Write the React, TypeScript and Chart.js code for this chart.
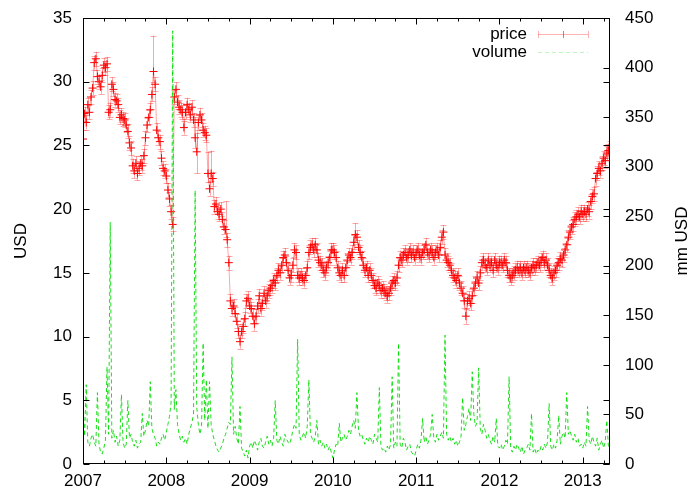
import React, { useEffect, useRef } from "react";
import { Chart, registerables } from "chart.js";

Chart.register(...registerables);

// weekly observations starting at the first week of 2007
const startYear = 2007;
const weeksPerYear = 52;

const price2007 = [
  25.5, 27.5, 26.8, 28.2, 27.6, 28.8, 29.5, 31.5, 31.8, 30.4,
  30, 29.6, 30.5, 31.3, 31.1, 31.4, 27.6, 27.8, 29.8, 29.4,
  28.6, 28.5, 28.2, 27.2, 27.4, 27.1, 27, 26.6, 26.1, 25.2,
  24.8, 23.4, 23, 23.6, 22.8, 23.2, 23.6, 23.4, 24.2, 25.6,
  26.6, 27.2, 27.8, 29, 30.8, 29.8, 26.2, 25.6, 25.3, 24,
  23.2, 23,
];
const price2008 = [
  22.6, 21.5, 20.8, 19.8, 18.8, 28.8, 29.4, 28.4, 28, 27.8,
  27.6, 26.4, 27.6, 28.2, 27.8, 27.4, 28, 27, 25.6, 24.5,
  26.8, 27.4, 27, 26.2, 26, 25.8, 22.8, 21.6, 22.8, 22.4,
  20.2, 20.4, 19.8, 19.6, 20, 19.2, 18.6, 18.4, 17.6, 15.8,
  12.8, 12.2, 12.4, 11.8, 11.2, 10.4, 9.6, 10.4, 10.8, 11.4,
  12.8, 13,
];
const price2009 = [
  12.4, 12.2, 11.6, 11, 11.6, 12.4, 13.2, 12.2, 12.6, 13.4,
  12.8, 13.2, 13.6, 13.8, 14, 14.4, 14.2, 14.8, 15.2, 15,
  15.6, 16.2, 16.4, 15.8, 15.2, 14.6, 14.8, 15.6, 16.8, 16.6,
  14.8, 14.6, 14.8, 14.6, 14.4, 14.8, 15.4, 16.6, 17, 17.2,
  16.8, 17.2, 16.8, 16, 15.8, 15.6, 15.2, 15, 15.4, 15.8,
  16.2, 16.8,
];
const price2010 = [
  16.8, 16.6, 16.2, 15.4, 15, 14.8, 15.2, 14.8, 15.4, 16,
  16.4, 16.2, 16.6, 17.4, 18, 17.8, 17, 16.6, 16.2, 15.6,
  15.2, 15.4, 14.8, 15.2, 14.8, 14.4, 14, 13.8, 14.2, 14,
  13.6, 13.8, 13.6, 13.4, 13.2, 13.4, 13.8, 14.2, 14.4, 14.2,
  14.6, 15.6, 16.2, 16, 16.4, 16.6, 16.2, 16.4, 16.8, 16.4,
  16.6, 16.2,
];
const price2011 = [
  16.6, 16.8, 16.4, 16.2, 16.6, 16.8, 17.2, 16.6, 16.4, 16.8,
  16.6, 16.2, 16.6, 16.8, 16.4, 17, 17.8, 18.2, 16.4, 16,
  15.8, 15.6, 15.2, 14.8, 14.6, 14.4, 14.8, 14.2, 13.8, 13.4,
  12.8, 11.6, 12.8, 13, 12.6, 13.2, 13.8, 14.2, 14.6, 14.2,
  15, 15.8, 16, 15.6, 15.4, 16, 15.6, 15.8, 15.2, 16,
  15.6, 15.4,
];
const price2012 = [
  15.8, 15.8, 15.6, 16, 15.8, 15.2, 14.8, 14.6, 14.8, 15,
  15.2, 15.4, 15.2, 15.4, 15, 15.4, 15.2, 15.4, 15.2, 15,
  15.4, 15.6, 15.4, 15.6, 15.8, 15.6, 16, 16.2, 15.8, 16,
  15.6, 15.2, 14.8, 14.6, 15, 15.2, 15.6, 15.8, 16.1, 16,
  16.4, 16.8, 17.2, 17.8, 18.2, 18.6, 18.8, 19.2, 19.4, 19.6,
  19.4, 19.8,
];
const price2013 = [
  19.6, 19.8, 19.6, 20, 19.8, 20.6, 21, 21.2, 22.4, 22.8,
  23.2, 23, 23.6, 24, 23.8, 24.4, 24.6, 24.8,
];

const volume2007 = [
  62, 28, 80, 22, 18, 26, 30, 22, 18, 72,
  20, 12, 10, 16, 24, 98, 30, 244, 26, 34,
  22, 28, 18, 24, 70, 22, 16, 20, 64, 26,
  30, 22, 18, 24, 16, 20, 22, 51, 28, 34,
  44, 38, 83, 36, 30, 26, 18, 22, 20, 26,
  30, 24,
];
const volume2008 = [
  32, 40, 48, 62, 437, 55, 75, 40, 30, 24,
  28, 22, 26, 20, 30, 36, 42, 50, 276, 58,
  40, 30, 38, 122, 44, 85, 36, 83, 40, 30,
  24, 18, 14, 12, 16, 20, 26, 30, 36, 42,
  40, 108, 30, 38, 26, 20, 58, 16, 12, 8,
  14, 6,
];
const volume2009 = [
  18, 22, 16, 24, 20, 14, 22, 26, 18, 16,
  22, 28, 20, 24, 18, 26, 64, 24, 20, 28,
  22, 18, 30, 26, 22, 20, 26, 34, 40, 36,
  126, 30, 24, 28, 32, 26, 38, 85, 30, 26,
  22, 28, 44, 20, 24, 18, 22, 16, 20, 14,
  18, 12,
];
const volume2010 = [
  6, 14, 20, 18, 41, 22, 26, 30, 24, 28,
  34, 30, 38, 44, 36, 72, 34, 28, 30, 24,
  20, 26, 22, 28, 24, 20, 30, 26, 22, 77,
  18, 14, 16, 12, 18, 14, 20, 88, 16, 22,
  18, 122, 20, 16, 26, 22, 14, 18, 20, 12,
  10, 8,
];
const volume2011 = [
  14, 20, 16, 24, 46, 22, 28, 20, 24, 30,
  50, 26, 22, 30, 24, 28, 32, 26, 130, 30,
  24, 28, 22, 26, 20, 24, 18, 22, 28, 67,
  34, 40, 48, 56, 44, 93, 50, 38, 42, 97,
  36, 30, 40, 34, 26, 30, 24, 20, 28, 22,
  46, 18,
];
const volume2012 = [
  16, 20, 14, 18, 24, 20, 88, 16, 12, 18,
  14, 20, 16, 12, 18, 10, 14, 16, 20, 14,
  51, 12, 16, 10, 14, 12, 18, 14, 20, 16,
  22, 61, 18, 14, 20, 16, 24, 49, 20, 28,
  32, 26, 72, 30, 34, 28, 24, 30, 22, 26,
  18, 20,
];
const volume2013 = [
  16, 22, 18, 58, 24, 20, 28, 22, 18, 26,
  14, 20, 24, 16, 22, 44, 18, 14,
];

// typical half-range of the weekly price error bar, and the visibly long bars [week, low, high]
const priceErrHalf = 0.55;
const priceLongBars = [
  [0, 25.0, 26.2],
  [44, 30.0, 33.6],
  [70, 24.8, 27.2],
  [71, 22.8, 26.0],
  [78, 22.1, 24.5],
  [80, 22.2, 24.6],
  [89, 17.8, 20.6],
  [170, 17.4, 18.9],
  [239, 11.0, 12.2],
];

const xTickLabels = ["2007", "2008", "2009", "2010", "2011", "2012", "2013"];
const yTickValues = [0, 5, 10, 15, 20, 25, 30, 35];
const y2TickValues = [0, 50, 100, 150, 200, 250, 300, 350, 400, 450];
const yTitle = "USD";
const y2Title = "mm USD";
const priceLabel = "price";
const volumeLabel = "volume";

const priceValues = [
  ...price2007, ...price2008, ...price2009, ...price2010,
  ...price2011, ...price2012, ...price2013,
];
const volumeValues = [
  ...volume2007, ...volume2008, ...volume2009, ...volume2010,
  ...volume2011, ...volume2012, ...volume2013,
];
const weekX = (i: number) => startYear + i / weeksPerYear;
const lastX = weekX(priceValues.length - 1);

const FONT = '17px "Liberation Sans", Arial, sans-serif';

function buildBars() {
  const bars = priceValues.map((v, i) => [v - priceErrHalf, v + priceErrHalf]);
  for (const [i, lo, hi] of priceLongBars) bars[i] = [lo, hi];
  return bars;
}

const gnuplotPlugin = {
  id: "gnuplotLook",
  beforeDatasetsDraw(chart: any) {
    const { ctx, chartArea: a, scales } = chart;
    const xs = scales.x, ys = scales.y;
    const bars = buildBars();
    ctx.save();
    ctx.beginPath();
    ctx.rect(a.left, a.top, a.right - a.left, a.bottom - a.top);
    ctx.clip();
    ctx.strokeStyle = "rgba(255,0,0,0.35)";
    ctx.lineWidth = 1;
    bars.forEach(([lo, hi], i) => {
      const x = Math.round(xs.getPixelForValue(weekX(i))) + 0.5;
      const y1 = ys.getPixelForValue(lo);
      const y2 = ys.getPixelForValue(hi);
      ctx.beginPath();
      ctx.moveTo(x, y1);
      ctx.lineTo(x, y2);
      ctx.moveTo(x - 3, Math.round(y1) + 0.5);
      ctx.lineTo(x + 3, Math.round(y1) + 0.5);
      ctx.moveTo(x - 3, Math.round(y2) + 0.5);
      ctx.lineTo(x + 3, Math.round(y2) + 0.5);
      ctx.stroke();
    });
    ctx.restore();
  },
  afterDraw(chart: any) {
    const { ctx, chartArea: a, scales } = chart;
    const xs = scales.x, ys = scales.y, y2s = scales.y2;
    ctx.save();
    ctx.strokeStyle = "#000";
    ctx.lineWidth = 1;
    const L = a.left + 0.5, R = a.right - 0.5, T = a.top + 0.5, B = a.bottom - 0.5;
    ctx.strokeRect(L, T, R - L, B - T);

    ctx.beginPath();
    // x ticks (quarterly minor, yearly major), bottom and mirrored top
    for (let q = 0; startYear + q / 4 <= lastX + 1e-9; q++) {
      const v = startYear + q / 4;
      const x = Math.round(xs.getPixelForValue(v)) + 0.5;
      const len = q % 4 === 0 ? 6 : 3;
      ctx.moveTo(x, B);
      ctx.lineTo(x, B - len);
      ctx.moveTo(x, T);
      ctx.lineTo(x, T + len);
    }
    // y ticks left, mirrored right
    yTickValues.forEach((v) => {
      const y = Math.round(ys.getPixelForValue(v)) + 0.5;
      ctx.moveTo(L, y);
      ctx.lineTo(L + 6, y);
      ctx.moveTo(R, y);
      ctx.lineTo(R - 6, y);
    });
    // y2 ticks right
    y2TickValues.forEach((v) => {
      const y = Math.round(y2s.getPixelForValue(v)) + 0.5;
      ctx.moveTo(R, y);
      ctx.lineTo(R - 6, y);
    });
    ctx.stroke();

    ctx.fillStyle = "#000";
    ctx.font = FONT;
    ctx.textBaseline = "middle";
    ctx.textAlign = "right";
    yTickValues.forEach((v) => ctx.fillText(String(v), a.left - 11, ys.getPixelForValue(v)));
    ctx.textAlign = "left";
    y2TickValues.forEach((v) => ctx.fillText(String(v), a.right + 15, y2s.getPixelForValue(v)));
    ctx.textAlign = "center";
    xTickLabels.forEach((t) => ctx.fillText(t, xs.getPixelForValue(Number(t)), a.bottom + 17));

    // axis titles, both reading bottom to top
    const midY = (a.top + a.bottom) / 2;
    ctx.save();
    ctx.translate(21, midY);
    ctx.rotate(-Math.PI / 2);
    ctx.fillText(yTitle, 0, 0);
    ctx.restore();
    ctx.save();
    ctx.translate(682, midY);
    ctx.rotate(-Math.PI / 2);
    ctx.fillText(y2Title, 0, 0);
    ctx.restore();

    // key
    const keyRight = a.right - 83;
    const sx1 = keyRight + 11, sx2 = keyRight + 61;
    const ky1 = a.top + 16, ky2 = a.top + 34;
    ctx.textAlign = "right";
    ctx.fillText(priceLabel, keyRight, ky1);
    ctx.fillText(volumeLabel, keyRight, ky2);
    ctx.strokeStyle = "rgba(255,0,0,0.3)";
    ctx.beginPath();
    ctx.moveTo(sx1, ky1 + 0.5);
    ctx.lineTo(sx2, ky1 + 0.5);
    [sx1, sx2].forEach((x) => {
      ctx.moveTo(x + 0.5, ky1 - 3);
      ctx.lineTo(x + 0.5, ky1 + 4);
    });
    ctx.stroke();
    ctx.strokeStyle = "rgba(255,0,0,0.6)";
    ctx.beginPath();
    const mx = Math.round((sx1 + sx2) / 2) + 0.5;
    ctx.moveTo(mx, ky1 - 3);
    ctx.lineTo(mx, ky1 + 4);
    ctx.stroke();
    ctx.strokeStyle = "rgba(0,220,0,0.25)";
    ctx.setLineDash([4, 3]);
    ctx.beginPath();
    ctx.moveTo(sx1, ky2 + 0.5);
    ctx.lineTo(sx2, ky2 + 0.5);
    ctx.stroke();
    ctx.restore();
  },
};

export default function App() {
  const canvasRef = useRef<HTMLCanvasElement | null>(null);
  useEffect(() => {
    document.body.style.margin = "0";
    const canvas = canvasRef.current;
    if (!canvas) return;
    const chart = new Chart(canvas, {
      type: "line",
      data: {
        datasets: [
          {
            label: priceLabel,
            data: priceValues.map((v, i) => ({ x: weekX(i), y: v })),
            yAxisID: "y",
            borderColor: "rgba(255,0,0,0.35)",
            borderWidth: 1,
            pointStyle: "cross",
            pointRadius: 4,
            pointBorderColor: "#ff0000",
            pointBorderWidth: 1,
            pointBackgroundColor: "rgba(0,0,0,0)",
            tension: 0,
            order: 1,
          },
          {
            label: volumeLabel,
            data: volumeValues.map((v, i) => ({ x: weekX(i), y: v })),
            yAxisID: "y2",
            borderColor: "rgba(0,220,0,0.9)",
            borderWidth: 1,
            borderDash: [4, 3],
            pointRadius: 0,
            tension: 0,
            order: 0,
          },
        ],
      },
      options: {
        animation: false,
        responsive: false,
        events: [],
        layout: { padding: { left: 83, right: 81, top: 18, bottom: 27 } },
        plugins: { legend: { display: false }, tooltip: { enabled: false } },
        scales: {
          x: { type: "linear", display: false, min: startYear, max: lastX },
          y: { type: "linear", display: false, min: 0, max: 35 },
          y2: { type: "linear", display: false, min: 0, max: 450, position: "right" },
        },
      },
      plugins: [gnuplotPlugin],
    } as any);
    return () => chart.destroy();
  }, []);
  return (
    <div style={{ width: 691, height: 491, background: "#fff" }}>
      <canvas ref={canvasRef} width={691} height={491} style={{ display: "block" }} />
    </div>
  );
}
